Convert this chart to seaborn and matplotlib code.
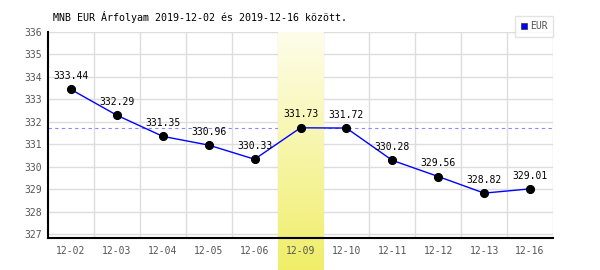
import numpy as np
import pandas as pd
import matplotlib
matplotlib.use("Agg")
import matplotlib.pyplot as plt
import seaborn as sns

dates = ["12-02", "12-03", "12-04", "12-05", "12-06", "12-09",
         "12-10", "12-11", "12-12", "12-13", "12-16"]
rates = [333.44, 332.29, 331.35, 330.96, 330.33, 331.73,
         331.72, 330.28, 329.56, 328.82, 329.01]
highlight_date = "12-09"
ref_value = 331.73
title = "MNB EUR Árfolyam 2019-12-02 és 2019-12-16 között."
series_name = "EUR"

sns.set_theme(style="white")
plt.rcParams["font.family"] = ["DejaVu Sans Mono", "DejaVu Sans"]

fig = plt.figure(figsize=(6, 2.7), dpi=100)
L, R = 48 / 600, 553 / 600
B, T = (270 - 238) / 270, (270 - 32) / 270
ax = fig.add_axes([L, B, R - L, T - B])

df = pd.DataFrame({"x": np.arange(len(dates)), "rate": rates})
n = len(dates)
y0, y1 = 326.82, 336

# manual grid
for yv in np.arange(327, 337):
    ax.axhline(yv, color="#dddddd", linewidth=1, zorder=0.5)
for xv in np.arange(n) + 0.5:
    ax.axvline(xv, color="#dddddd", linewidth=1, zorder=0.5)

ax.axhline(ref_value, color="#8888ff", linestyle=(0, (3, 3)), linewidth=0.8, zorder=1)

# highlight band (gradient), from axes top to figure bottom
hi = dates.index(highlight_date)
axes_px = (T - B) * 270
ybot = y0 - (B * 270) / axes_px * (y1 - y0)
grad = np.linspace(0, 1, 256).reshape(-1, 1)
top = np.array([0xfe, 0xfd, 0xea]) / 255
bot = np.array([0xf0, 0xee, 0x68]) / 255
img = top[None, None, :] * (1 - grad[:, :, None]) + bot[None, None, :] * grad[:, :, None]
ax.imshow(img, aspect="auto", extent=[hi - 0.5, hi + 0.5, ybot, y1],
          origin="upper", zorder=1.5, clip_on=False, interpolation="bilinear")

sns.lineplot(data=df, x="x", y="rate", ax=ax, color="#0000ff", linewidth=1,
             marker="o", markersize=5.8, markerfacecolor="black",
             markeredgecolor="black", zorder=3, label=series_name)

for i, v in enumerate(rates):
    ax.annotate(f"{v:.2f}", (i, v), xytext=(0, 6), textcoords="offset points",
                ha="center", va="bottom", fontsize=7, color="black", zorder=4)

ax.set_xlim(-0.5, n - 0.5)
ax.set_ylim(y0, y1)
ax.set_yticks(np.arange(327, 337))
ax.set_xticks(np.arange(n))
ax.set_xticklabels(dates)
ax.set_axisbelow(False)

for s in ["top", "right"]:
    ax.spines[s].set_visible(False)
for s in ["left", "bottom"]:
    ax.spines[s].set_color("black")
    ax.spines[s].set_linewidth(1.5)
    ax.spines[s].set_zorder(5)

ax.tick_params(axis="both", which="both", length=0, labelsize=7, labelcolor="#555555")
ax.tick_params(axis="y", pad=4)
ax.tick_params(axis="x", pad=6)
ax.set_xlabel("")
ax.set_ylabel("")

leg = ax.legend(handles=[plt.Rectangle((0, 0), 1, 1, facecolor="#0000ff", edgecolor="#333333", linewidth=0.5)],
                labels=[series_name], loc="upper right", bbox_to_anchor=(1.0, 1.078),
                fontsize=7, frameon=True, fancybox=False, handlelength=0.65, handleheight=0.65,
                handletextpad=0.3, borderpad=0.55, borderaxespad=0)
leg.get_frame().set_edgecolor("#dddddd")
leg.get_frame().set_linewidth(1)
leg.set_zorder(6)
for t in leg.get_texts():
    t.set_color("#555555")

fig.text(53 / 600, 1 - 17 / 270, title, fontsize=7.2, color="black", va="center", ha="left")

fig.savefig("out.png", dpi=100)
